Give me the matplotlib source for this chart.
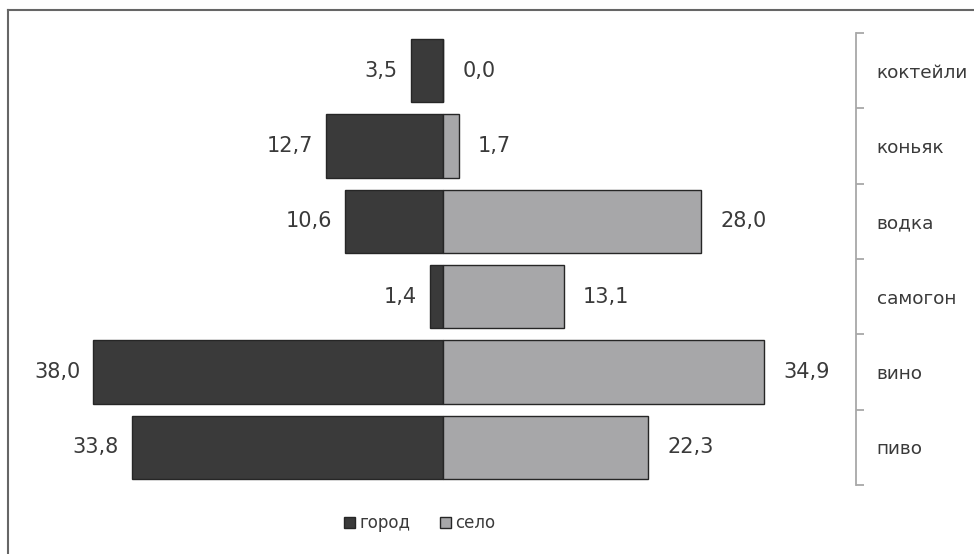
import matplotlib.pyplot as plt
from matplotlib.lines import Line2D
from matplotlib.patches import Patch

# drink preference, % of respondents
drinks = ["пиво", "вино", "самогон", "водка", "коньяк", "коктейли"]
city = [33.8, 38.0, 1.4, 10.6, 12.7, 3.5]
village = [22.3, 34.9, 13.1, 28.0, 1.7, 0.0]
series_names = ["город", "село"]

dark = "#3a3a3a"
light = "#a7a7a9"
edge = "#262626"
text_col = "#3a3a3a"

plt.rcParams['font.family'] = ['DejaVu Sans']

W, H = 974, 554
fig = plt.figure(figsize=(W / 100, H / 100), dpi=100)

# axes placed in pixel terms: centre line at x=443, ~9.2 px per percent
left_px, right_px = 75, 811
top_px, bot_px = 33, 485
ax = fig.add_axes([left_px / W, 1 - bot_px / H,
                   (right_px - left_px) / W, (bot_px - top_px) / H])
ax.set_xlim(-40, 40)
ax.set_ylim(-0.5, len(drinks) - 0.5)

y = list(range(len(drinks)))
ax.barh(y, [-v for v in city], height=0.84, color=dark, edgecolor=edge, linewidth=1)
ax.barh(y, village, height=0.84, color=light, edgecolor=edge, linewidth=1)

for yi, c, v in zip(y, city, village):
    ax.annotate(f"{c:.1f}".replace(".", ","), (-c, yi), xytext=(-9.5, 0),
                textcoords="offset points", ha="right", va="center",
                fontsize=15, color=text_col)
    ax.annotate(f"{v:.1f}".replace(".", ","), (v, yi), xytext=(14, 0),
                textcoords="offset points", ha="left", va="center",
                fontsize=15, color=text_col)

for s in ax.spines.values():
    s.set_visible(False)
ax.set_xticks([])
ax.set_yticks([])

# bracket-style category axis on the right
sec = ax.secondary_yaxis((856 - left_px) / (right_px - left_px))
sec.spines['right'].set_color("#a8a8a8")
sec.spines['right'].set_linewidth(1.3)
sec.set_yticks([i - 0.5 for i in range(len(drinks) + 1)])
sec.set_yticklabels([])
sec.tick_params(axis='y', which='major', length=6, width=1.3, color="#a8a8a8",
                direction='out')
sec.set_yticks(y, minor=True)
sec.set_yticklabels(drinks, minor=True)
sec.tick_params(axis='y', which='minor', length=0, pad=15, labelsize=13.3,
                labelcolor=text_col)

handles = [Patch(facecolor=dark, edgecolor=edge), Patch(facecolor=light, edgecolor=edge)]
fig.legend(handles, series_names, loc="center", bbox_to_anchor=(420 / W, 1 - 523 / H),
           ncol=2, frameon=False, fontsize=12, handlelength=0.65, handleheight=0.65,
           handletextpad=0.25, columnspacing=1.8, labelcolor=text_col)

# outer frame: only top and left edges show
fig.add_artist(Line2D([8 / W, 8 / W], [0, 1 - 10 / H], color="#666666", linewidth=1.5))
fig.add_artist(Line2D([8 / W, 1], [1 - 10 / H, 1 - 10 / H], color="#666666", linewidth=1.5))

fig.savefig("out.png", dpi=100)
